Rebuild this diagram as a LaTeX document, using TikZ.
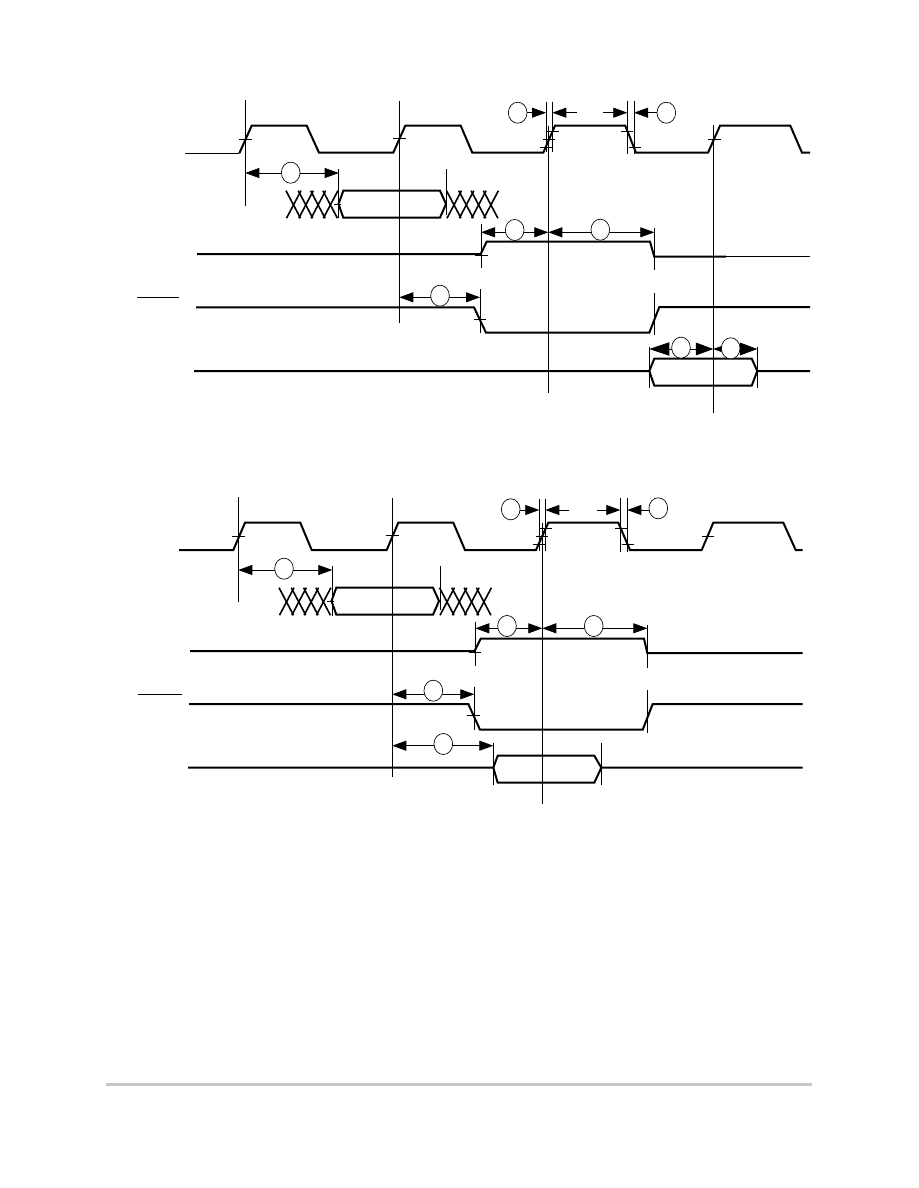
\documentclass[tikz,border=0pt]{standalone}
\usetikzlibrary{arrows.meta,shapes.geometric}
\definecolor{rulegrey}{HTML}{C6C6C6}
\tikzset{
  sigthick/.style={line width=1.5pt,line join=miter,line cap=butt},
  sigthin/.style={line width=0.8pt},
  guide/.style={line width=0.75pt},
  ticks/.style={line width=0.6pt},
  cross/.style={line width=1.2pt},
  dimtip/.style={line width=0.6pt,-{Triangle[length=10.5pt,width=7.5pt]}},
  dimboth/.style={line width=0.6pt,{Triangle[length=10.5pt,width=7.5pt]}-{Triangle[length=10.5pt,width=7.5pt]}},
  dimbig/.style={line width=0.6pt,{Triangle[length=15pt,width=10pt]}-{Triangle[length=13pt,width=9.5pt]}},
  balloon/.style={ellipse,draw,line width=0.5pt,fill=white,minimum width=14pt,minimum height=15.8pt,inner sep=0pt}
}
\newcommand{\xfour}[2]{% x0, y offset
  \foreach \k in {0,1,2,3}{
    \draw[cross] ({#1+12.3*\k},{#2}) -- ({#1+12.3*\k+14.5},{#2+27.5});
    \draw[cross] ({#1+12.3*\k+15},{#2}) -- ({#1+12.3*\k+0.5},{#2+27.5});
  }}
\begin{document}
\begin{tikzpicture}[x=0.75pt,y=-0.75pt]
\useasboundingbox (0,0) rectangle (918,1188);
\fill[white] (0,0) rectangle (918,1188);
% ================= upper diagram =================
% guides
\draw[guide] (245.3,100) -- (245.3,205.7);
\draw[guide] (399.3,101) -- (399.3,323.3);
\draw[guide] (548.3,125.7) -- (548.3,393.3);
\draw[guide] (713.3,125) -- (713.3,412.7);
\draw[guide] (546,101.7) -- (546,152);
\draw[guide] (552.3,101.7) -- (552.3,152);
\draw[guide] (627.3,100.7) -- (627.3,154.3);
\draw[guide] (634,100.7) -- (634,154.3);
\draw[guide] (338.7,169) -- (338.7,218);
\draw[guide] (446.3,169) -- (446.3,215);
\draw[guide] (481,224) -- (481,268.3);
\draw[guide] (654.3,228.3) -- (654.3,270);
\draw[guide] (480,289) -- (480,333);
\draw[guide] (654.3,293.3) -- (654.3,335);
\draw[guide] (649.3,346.7) -- (649.3,388.3);
\draw[guide] (757.3,346.7) -- (757.3,388.3);
% clock
\draw[sigthin] (185,153.3) -- (239.3,153.3);
\draw[sigthick] (239.3,153.3) -- (251.7,125.7) -- (306.7,125.7) -- (319,152.7) -- (393.3,152.7) -- (405.3,125.7) -- (460.7,125.7) -- (472.3,152.7) -- (543.3,152.7) -- (555,125.7) -- (625.3,125.7) -- (636,152.7) -- (708,152.7) -- (720,125.7) -- (790.3,125.7) -- (802,152.7) -- (810,152.7);
% clock ticks
\draw[ticks] (239,139.3) -- (252,139.3) (393,138.3) -- (406,138.3) (547.3,131) -- (559,131) (543,139.3) -- (555,139.3) (540,147.3) -- (551.7,147.3) (620.7,131) -- (633.3,131) (629.3,147.3) -- (640.7,147.3) (708,139.3) -- (721,139.3);
% bus
\xfour{286}{190.7}
\xfour{446.5}{190.7}
\draw[sigthick] (338.5,204) -- (343.3,190.7) -- (440,190.7) -- (446,204) -- (440,217.7) -- (343.3,217.7) -- cycle;
\draw[ticks] (334,204) -- (341,204);
% signal 3
\draw[sigthick] (197,254) -- (480.7,254) -- (486.7,241.7) -- (650,241.7) -- (654.3,256.7) -- (726,256.7);
\draw[sigthin] (726,256.7) -- (810,256.7);
\draw[ticks] (475,255) -- (487.7,255);
% signal 4
\draw[sigthin] (137,297.3) -- (178.7,297.3);
\draw[sigthick] (196,307.3) -- (474,307.3) -- (486,332.7) -- (649.3,332.7) -- (659.3,307) -- (810,307);
\draw[ticks] (474,319.3) -- (486,319.3);
% signal 5
\draw[sigthick] (194,371) -- (649.3,371) -- (654.3,358.7) -- (751.7,358.7) -- (757.3,371) -- (810,371);
\draw[sigthick] (649.3,371) -- (654.3,385.7) -- (751.7,385.7) -- (757.3,371);
% dimensions
\coordinate (u1l) at (245.3,173); \coordinate (u1r) at (338.7,173);
\draw[dimboth] (u1l) -- (u1r);
\node[balloon] (ub1) at (290.7,172.7) {};
\coordinate (u2l) at (399.3,297.3); \coordinate (u2r) at (480,297.3);
\draw[dimboth] (u2l) -- (u2r);
\node[balloon] (ub2) at (440,295.7) {};
\coordinate (u3l) at (481,232.3); \coordinate (u3m) at (548.3,232.3); \coordinate (u3r) at (654.3,232.3);
\draw[dimboth] (u3l) -- (u3m);
\draw[dimboth] (u3m) -- (u3r);
\node[balloon] (ub3) at (514.7,230) {};
\node[balloon] (ub4) at (600.3,229.7) {};
\coordinate (u4l) at (649.3,349); \coordinate (u4m) at (713.3,349); \coordinate (u4r) at (757.3,349);
\draw[dimbig] (u4l) -- (u4m);
\draw[dimtip] (u4r) ++(-30,0) -- (u4m);
\draw[dimbig,{Triangle[length=1pt,width=0.1pt]}-{Triangle[length=13pt,width=9.5pt]}] (u4m) -- (u4r);
\node[balloon] (ub5) at (681,347.7) {};
\node[balloon] (ub6) at (730.7,348.3) {};
\coordinate (u5a) at (517.7,112.7); \coordinate (u5b) at (546,112.7);
\draw[dimtip] (u5a) -- (u5b);
\node[balloon] (ub7) at (517.7,112.7) {};
\coordinate (u6a) at (576.7,112.7); \coordinate (u6b) at (552.3,112.7);
\draw[dimtip] (u6a) -- (u6b);
\coordinate (u7a) at (603.3,112.7); \coordinate (u7b) at (627.3,112.7);
\draw[dimtip] (u7a) -- (u7b);
\coordinate (u8a) at (666.3,112.7); \coordinate (u8b) at (634,112.7);
\draw[dimtip] (u8a) -- (u8b);
\node[balloon] (ub8) at (666.3,112.7) {};
% ================= lower diagram =================
\draw[guide] (238.3,497.3) -- (238.3,601.7);
\draw[guide] (392.3,498) -- (392.3,777.3);
\draw[guide] (542.3,523) -- (542.3,804.3);
\draw[guide] (539.3,499) -- (539.3,551);
\draw[guide] (545.3,499) -- (545.3,551);
\draw[guide] (620.3,498.3) -- (620.3,551.7);
\draw[guide] (627.3,498.3) -- (627.3,551.7);
\draw[line width=1.2pt] (332.3,566) -- (332.3,590);
\draw[guide] (332.3,590) -- (332.3,616);
\draw[guide] (440.3,566) -- (440.3,610);
\draw[guide] (475.3,621.7) -- (475.3,665.7);
\draw[guide] (647.3,625) -- (647.3,667.7);
\draw[guide] (474.3,686.7) -- (474.3,730);
\draw[guide] (647.3,690) -- (647.3,732.7);
\draw[guide] (493.3,743.3) -- (493.3,785);
\draw[guide] (601.3,743.3) -- (601.3,785);
% clock
\draw[sigthick] (179,550) -- (233.3,550) -- (245,522.7) -- (300.3,522.7) -- (311.7,550) -- (386.7,550) -- (398.3,522.7) -- (453.3,522.7) -- (465,550) -- (536,550) -- (548.3,522.7) -- (618.3,522.7) -- (630,550) -- (701.7,550) -- (713.3,522.7) -- (783.3,522.7) -- (795.7,550) -- (802.7,550);
\draw[ticks] (232,536.3) -- (245,536.3) (386,535.3) -- (399,535.3) (540.3,528) -- (552,528) (536,536.3) -- (548,536.3) (533,544.3) -- (544.7,544.3) (615,528.3) -- (626.7,528.3) (622.3,544.3) -- (633.7,544.3) (701.7,536.3) -- (713.5,536.3);
% bus
\xfour{279}{587.7}
\xfour{439.5}{587.7}
\draw[sigthick] (331.5,601) -- (336.3,587.7) -- (433,587.7) -- (439,601) -- (433,614.7) -- (336.3,614.7) -- cycle;
\draw[ticks] (327,601) -- (334,601);
% signal 3
\draw[sigthick] (190,651) -- (474.5,651) -- (480.7,638.7) -- (644,638.7) -- (647.3,653) -- (802.7,653);
\draw[ticks] (468.5,652) -- (481,652);
% signal 4
\draw[sigthin] (138,694.3) -- (182,694.3);
\draw[sigthick] (189,704) -- (468.3,704) -- (480,729.7) -- (642.7,729.7) -- (652.7,704) -- (802.7,704);
\draw[ticks] (466.7,715.7) -- (480,715.7);
% signal 5
\draw[sigthick] (188,767.7) -- (493.3,767.7) -- (497.7,755.7) -- (594.3,755.7) -- (601.3,767.7) -- (802.7,767.7);
\draw[sigthick] (493.3,767.7) -- (497.7,782.7) -- (594.3,782.7) -- (601.3,767.7);
% dimensions
\coordinate (l1l) at (238.3,570); \coordinate (l1r) at (332.3,570);
\draw[dimboth] (l1l) -- (l1r);
\node[balloon] (lb1) at (284,568.7) {};
\coordinate (l2l) at (392.3,694.3); \coordinate (l2r) at (474.3,694.3);
\draw[dimboth] (l2l) -- (l2r);
\node[balloon] (lb2) at (433.3,690.7) {};
\coordinate (l3l) at (475.3,628.3); \coordinate (l3m) at (542.3,628.3); \coordinate (l3r) at (647.3,628.3);
\draw[dimboth] (l3l) -- (l3m);
\draw[dimboth] (l3m) -- (l3r);
\node[balloon] (lb3) at (507,626) {};
\node[balloon] (lb4) at (593.7,626) {};
\coordinate (l4l) at (392.3,745.7); \coordinate (l4r) at (493.3,745.7);
\draw[dimboth] (l4l) -- (l4r);
\node[balloon] (lb5) at (443.3,744) {};
\coordinate (l5a) at (510.7,510); \coordinate (l5b) at (539.3,510);
\draw[dimtip] (l5a) -- (l5b);
\node[balloon] (lb6) at (510.7,509.3) {};
\coordinate (l6a) at (569.3,510); \coordinate (l6b) at (545.3,510);
\draw[dimtip] (l6a) -- (l6b);
\coordinate (l7a) at (597.3,510); \coordinate (l7b) at (620.3,510);
\draw[dimtip] (l7a) -- (l7b);
\coordinate (l8a) at (658.3,510); \coordinate (l8b) at (627.3,510);
\draw[dimtip] (l8a) -- (l8b);
\node[balloon] (lb7) at (658.3,508.3) {};
% footer rule
\fill[rulegrey] (106,1083) rectangle (812,1086);
\end{tikzpicture}
\end{document}
